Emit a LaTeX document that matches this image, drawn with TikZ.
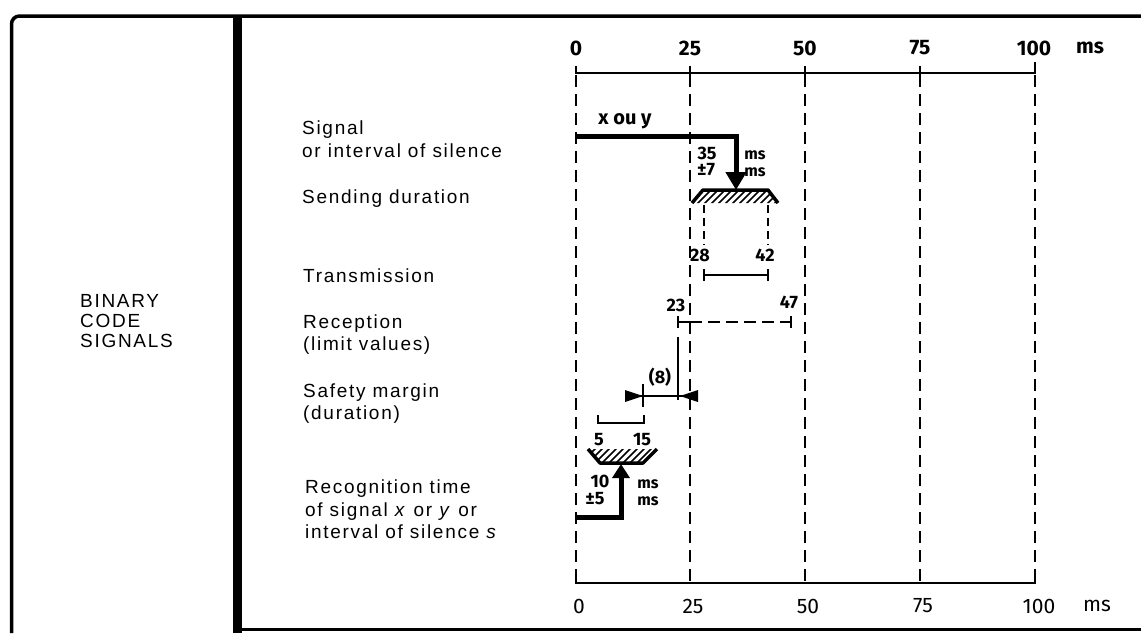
\documentclass[tikz,border=0pt]{standalone}
\usepackage{fontspec}
\setmainfont{Liberation Sans}
\newfontfamily\labfont{Liberation Sans}[LetterSpace=9]
\newfontfamily\dinfont{Fira Sans}
\usetikzlibrary{arrows.meta}
\begin{document}
\begin{tikzpicture}[x=1pt,y=-1pt,
  lab/.style={font=\labfont\fontsize{19}{22.5}\selectfont, anchor=base west, inner sep=0pt},
  num/.style={font=\dinfont\bfseries\fontsize{18}{18}\selectfont, inner sep=0pt},
  unit/.style={font=\dinfont\bfseries\fontsize{16}{16}\selectfont, inner sep=0pt},
  axnum/.style={font=\dinfont\bfseries\fontsize{21}{21}\selectfont, inner sep=0pt},
  botnum/.style={font=\dinfont\fontsize{21}{21}\selectfont, inner sep=0pt},
  grid/.style={line width=1.6pt, dash pattern=on 12pt off 7pt},
  frame/.style={line width=3.5pt},
  thin/.style={line width=1.7pt},
  heavy/.style={line width=5pt, line join=miter},
  hatch/.style={line width=1.5pt}]
\useasboundingbox (0,0) rectangle (1141,633);

% frame
\draw[frame, rounded corners=8pt] (11.5,633) -- (11.5,16) -- (1141,16);
\draw[line width=9pt] (237.5,16) -- (237.5,633);
\draw[line width=3pt] (242,629) -- (1141,629);

% left column
\node[lab] (b1) at (80,307) {BINARY};
\node[lab] (b2) at (80,327) {CODE};
\node[lab] (b3) at (80,347) {SIGNALS};

% row labels
\node[lab] (sig1) at (302,134.5) {Signal};
\node[lab] (sig2) at (302,157) {or interval of silence};
\node[lab] (send) at (302,203) {Sending duration};
\node[lab] (trans) at (303,282) {Transmission};
\node[lab] (rec1) at (303,328) {Reception};
\node[lab] (rec2) at (303,350.5) {(limit values)};
\node[lab] (saf1) at (303,397) {Safety margin};
\node[lab] (saf2) at (303,419.5) {(duration)};
\node[lab] (rcg1) at (305,493) {Recognition time};
\node[lab] (rcg2) at (305,516) {of signal \textit{x} or \textit{y} or};
\node[lab] (rcg3) at (305,538) {interval of silence \textit{s}};

% axes
\draw[thin] (576,66) -- (576,73) -- (1035,73) -- (1035,62);
\foreach \x in {690,805,920} \draw[thin] (\x,66) -- (\x,80);
\draw[thin] (576,576) -- (576,583) -- (1035,583) -- (1035,576);
\foreach \x in {576,690,805,920,1035} \draw[grid] (\x,75) -- (\x,583);

\node[axnum] (t0) at (576,48) {0};
\node[axnum] (t25) at (690,48) {25};
\node[axnum] (t50) at (805,48) {50};
\node[axnum] (t75) at (920,48) {75};
\node[axnum] (t100) at (1034,48) {100};
\node[axnum] (tms) at (1090,48) {ms};
\node[botnum] (u0) at (579,606) {0};
\node[botnum] (u25) at (693,606) {25};
\node[botnum] (u50) at (808,606) {50};
\node[botnum] (u75) at (923,606) {75};
\node[botnum] (u100) at (1039,606) {100};
\node[botnum] (ums) at (1097,606) {ms};

% signal
\node[font=\dinfont\bfseries\fontsize{20}{20}\selectfont, inner sep=0pt] (xy) at (625,121) {x ou y};
\coordinate (s0) at (576,136);
\coordinate (s1) at (736,136);
\coordinate (s2) at (736,190);
\draw[heavy, -{Triangle[length=18pt,width=20pt]}] (s0) -- (s1) -- (s2);
\node[num] (n35) at (707,153) {35};
\node[num] (n7) at (706,170) {±7};
\node[unit] (ms1) at (755,155) {ms};
\node[unit] (ms2) at (755,172) {ms};

% sending duration shape
\begin{scope}
\clip (692,203) -- (703,190) -- (768,190) -- (778,203) -- cycle;
\foreach \i in {670,677,...,790} \draw[hatch] (\i,210) -- ++(24,-24);
\end{scope}
\draw[line width=3.5pt, line join=round] (692,203) -- (703,190) -- (768,190) -- (778,203);
\draw[thin, dash pattern=on 8pt off 5pt] (704,205) -- (704,245);
\draw[thin, dash pattern=on 8pt off 5pt] (768,205) -- (768,245);
\node[num] (n28) at (700,255) {28};
\node[num] (n42) at (765,255) {42};

% transmission
\draw[thin] (704,275) -- (768,275);
\draw[thin] (704,269) -- (704,281);
\draw[thin] (768,269) -- (768,281);

% reception
\node[num] (n23) at (676,305) {23};
\node[num] (n47) at (789,302) {47};
\draw[thin] (678,322) -- (690,322);
\draw[thin, dash pattern=on 12pt off 6pt] (690,322) -- (791,322);
\draw[thin] (678,316) -- (678,328);
\draw[thin] (791,316) -- (791,328);
\draw[line width=1.4pt] (678,337) -- (678,400);

% safety margin
\node[num] (n8) at (660,377) {(8)};
\draw[line width=1.4pt] (625,396) -- (698,396);
\fill (625,390) -- (643,396) -- (625,402) -- cycle;
\fill (698,390) -- (680,396) -- (698,402) -- cycle;
\draw[line width=1.4pt] (643,384) -- (643,407);

% recognition bracket
\draw[thin] (598,415) -- (598,423) -- (644,423) -- (644,415);
\node[num] (n5) at (599,440) {5};
\node[num] (n15) at (642,440) {15};

% recognition shape
\begin{scope}
\clip (588,449) -- (657,449) -- (643,463) -- (600,463) -- cycle;
\foreach \i in {560,567,...,680} \draw[hatch] (\i,470) -- ++(28,-28);
\end{scope}
\draw[line width=3.5pt, line join=round] (588,449) -- (600,463) -- (643,463) -- (657,449);

% recognition arrow
\coordinate (r0) at (576,517);
\coordinate (r1) at (621,517);
\coordinate (r2) at (621,464);
\draw[heavy, -{Triangle[length=14pt,width=17pt]}] (r0) -- (r1) -- (r2);
\node[num] (n10) at (600,481) {10};
\node[num] (n5b) at (595,499) {±5};
\node[unit] (ms3) at (648,484) {ms};
\node[unit] (ms4) at (648,501) {ms};
\end{tikzpicture}
\end{document}
